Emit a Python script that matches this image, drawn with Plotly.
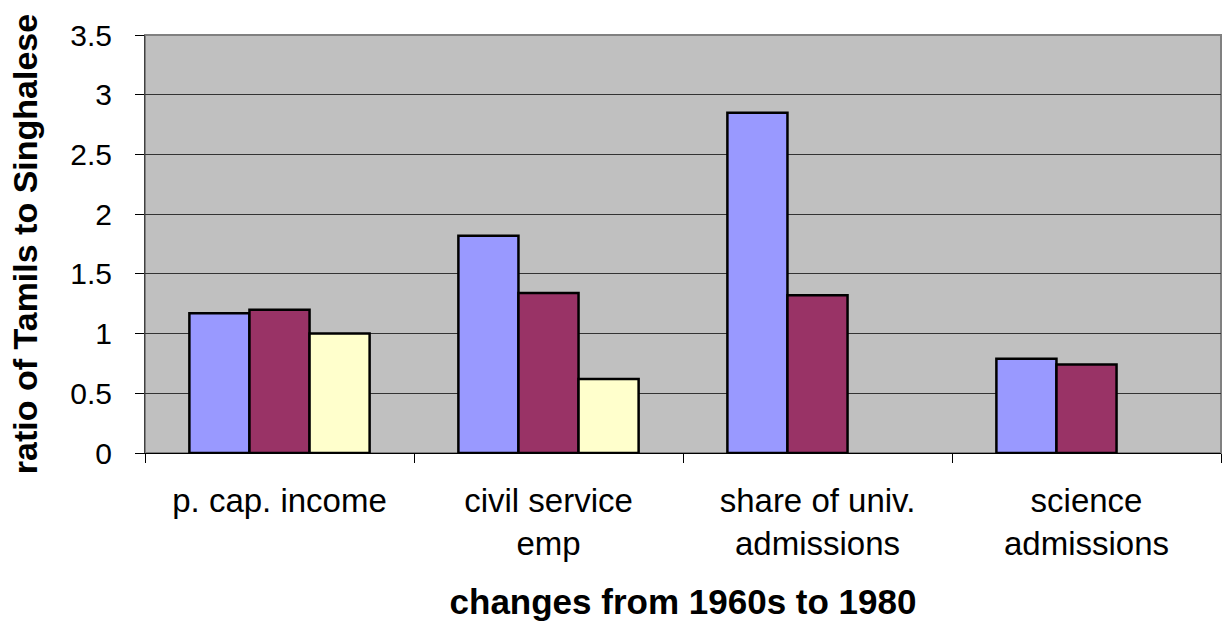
import plotly.graph_objects as go

categories = ["p. cap. income", "civil service<br>emp", "share of univ.<br>admissions", "science<br>admissions"]
series_a = [1.17, 1.82, 2.85, 0.79]
series_b = [1.20, 1.34, 1.32, 0.74]
series_c = [1.00, 0.62, None, None]
y_ticks = [0, 0.5, 1, 1.5, 2, 2.5, 3, 3.5]
y_tick_text = ["0", "0.5", "1", "1.5", "2", "2.5", "3", "3.5"]

FONT = "Liberation Sans, Arial, sans-serif"

fig = go.Figure()
for vals, color in [(series_a, "#9999FF"), (series_b, "#993366"), (series_c, "#FFFFCC")]:
    fig.add_trace(go.Bar(
        x=categories,
        y=vals,
        marker=dict(color=color, line=dict(color="black", width=2.5)),
    ))

fig.update_layout(
    width=1223,
    height=624,
    barmode="group",
    bargap=0.33,
    bargroupgap=0,
    showlegend=False,
    paper_bgcolor="white",
    plot_bgcolor="#C0C0C0",
    margin=dict(l=145, r=2, t=35, b=171, autoexpand=False),
    font=dict(family=FONT, color="black"),
    xaxis=dict(
        tickson="boundaries",
        ticks="outside",
        ticklen=9,
        tickcolor="black",
        ticklabelstandoff=18,
        showline=True,
        linecolor="black",
        linewidth=1,
        showgrid=False,
        tickfont=dict(size=33),
        title=dict(text="<b>changes from 1960s to 1980</b>", font=dict(size=35), standoff=28),
    ),
    yaxis=dict(
        range=[0, 3.5],
        tickvals=y_ticks,
        ticktext=y_tick_text,
        ticks="outside",
        ticklen=9,
        tickcolor="black",
        ticklabelstandoff=17,
        showline=True,
        linecolor="#404040",
        linewidth=1,
        gridcolor="#333333",
        gridwidth=1,
        zeroline=False,
        tickfont=dict(size=30),
        title=dict(text="<b>ratio of Tamils to Singhalese</b>", font=dict(size=34), standoff=22),
    ),
    shapes=[dict(
        type="rect", xref="paper", yref="paper", x0=0, x1=1, y0=0, y1=1,
        line=dict(color="#808080", width=2), layer="below",
    )],
)

fig.write_html(
    "out.html",
    config={"displayModeBar": False},
    post_script="document.body.style.margin='0';document.body.style.overflow='hidden';",
)
